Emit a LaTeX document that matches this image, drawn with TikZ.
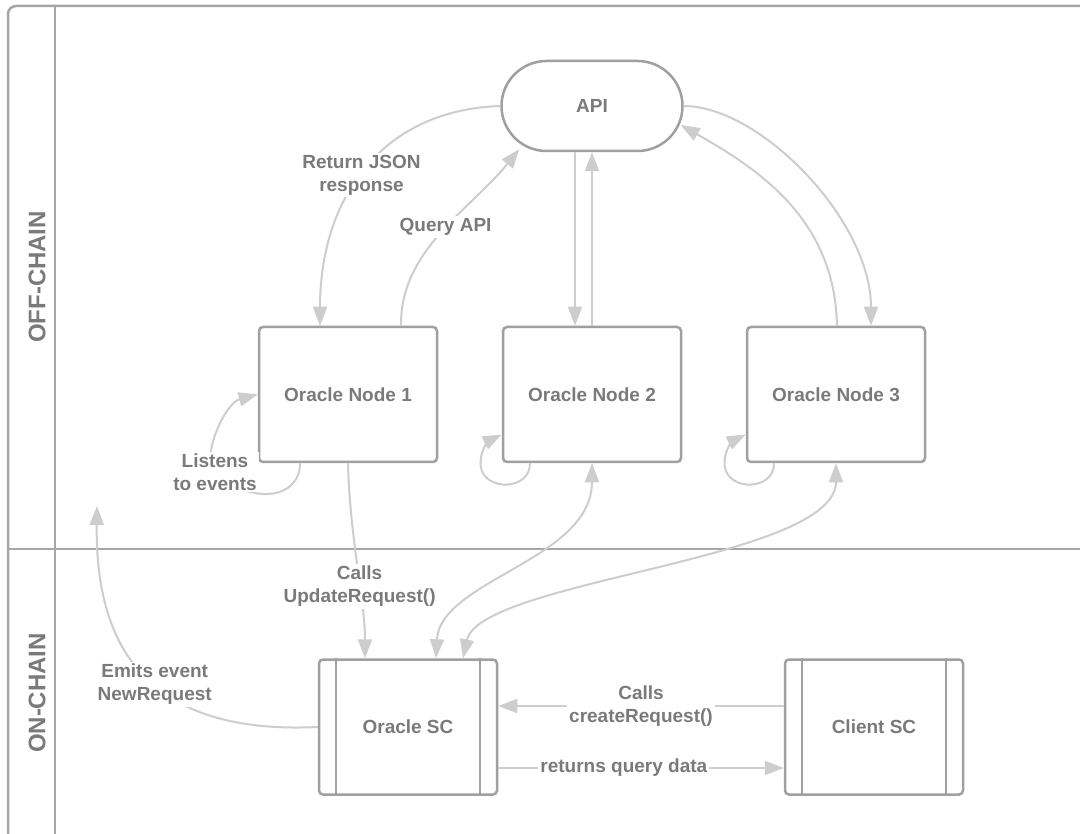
\documentclass[tikz,border=0pt]{standalone}
\usepackage{fontspec}
\setmainfont{Liberation Sans}
\usepackage{tikz}
\usetikzlibrary{arrows.meta,calc,positioning}
\definecolor{rahmen}{HTML}{A6A6A6}
\definecolor{kasten}{HTML}{A0A0A0}
\definecolor{pfeil}{HTML}{CDCDCD}
\definecolor{schrift}{HTML}{7A7A7A}

\begin{document}
\begin{tikzpicture}[x=1pt,y=-1pt,
  >={Triangle[length=19pt,width=14pt]},
  box/.style={draw=kasten,line width=2.5pt,rounded corners=4pt,minimum width=178pt,minimum height=135pt,inner sep=0pt,text=schrift,font=\fontsize{19}{23}\selectfont\bfseries},
  link/.style={draw=pfeil,line width=2pt,->},
  lbl/.style={fill=white,align=center,inner sep=2pt,text=schrift,font=\fontsize{19}{23}\selectfont\bfseries},
  lane/.style={rotate=90,text=schrift,font=\fontsize{24}{27}\selectfont\bfseries},
  rahmenlinie/.style={draw=rahmen,line width=2.5pt}]
\useasboundingbox (0,0) rectangle (1080,834);
%Schwimmbahnen
\draw[rahmenlinie,rounded corners=8pt] (1080,6) -- (8,6) -- (8,834);
\draw[rahmenlinie] (55,6) -- (55,834);
\draw[rahmenlinie] (8,549) -- (1080,549);
\node[lane] (off) at (37,277) {OFF-CHAIN};
\node[lane] (on) at (37,693) {ON-CHAIN};
%Knoten
\node[box,rounded corners=45pt,minimum width=181pt,minimum height=90pt] (api) at (592,106) {API};
\node[box] (n1) at (348,394.5) {Oracle Node 1};
\node[box] (n2) at (592,394.5) {Oracle Node 2};
\node[box] (n3) at (836,394.5) {Oracle Node 3};
\node[box] (sc) at (408,727) {Oracle SC};
\node[box] (cl) at (874,727) {Client SC};
\foreach \k in {sc,cl}{
\draw[draw=kasten,line width=2pt] ([xshift=18]\k.north west) -- ([xshift=18]\k.south west);
\draw[draw=kasten,line width=2pt] ([xshift=-18]\k.north east) -- ([xshift=-18]\k.south east);
}
\coordinate (evt) at (97,506);
%Verbindungen
\draw[link] (api.west) .. controls (380,110) and (320,200) .. ($(n1.north)+(-28,0)$) node[lbl,pos=0.52] {Return JSON\\response};
\draw[link] ($(n1.north)+(53,0)$) .. controls (400,250) and (470,210) .. ($(api.south west)+(19,-3)$) node[lbl,pos=0.53] {Query API};
\draw[link] ($(api.south)+(-17,0)$) -- ($(n2.north)+(-17,0)$);
\draw[link] (n2.north) -- (api.south);
\draw[link] (api.east) .. controls (760,106) and (871,220) .. ($(n3.north)+(35,0)$);
\draw[link] ($(n3.north)+(1,0)$) .. controls (835,220) and (760,170) .. ($(api.east)+(-3,19)$);
\draw[link] ($(n1.south)+(-48,0)$) .. controls (300,500) and (250,505) .. (215,472) node[lbl] {Listens\\to events} .. controls (200,458) and (225,403) .. (n1.west);
\foreach \k in {n2,n3}{
\draw[link] ($(\k.south)+(-62,0)$) .. controls +(0,28) and +(3,25) .. ($(\k.south west)+(-21,3)$) .. controls +(-2,-15) and +(-12,6) .. ($(\k.west)+(0,40)$);
}
\draw[link] (n1.south) .. controls (350,540) and (365,600) .. ($(sc.north)+(-43,0)$) node[lbl,pos=0.6] {Calls\\UpdateRequest()};
\draw[link,<->] ($(sc.north)+(28,0)$) .. controls (440,580) and (592,560) .. (n2.south);
\draw[link,<->] ($(sc.north)+(55,0)$) .. controls (480,580) and (836,560) .. (n3.south);
\draw[link] (sc.west) .. controls (150,735) and (95,650) .. (evt) node[lbl,pos=0.45] {Emits event\\NewRequest};
\draw[link] ($(cl.west)+(0,-21)$) -- node[lbl] {Calls\\createRequest()} ($(sc.east)+(0,-21)$);
\draw[link] ($(sc.east)+(0,41)$) -- node[lbl,pos=0.44] {returns query data} ($(cl.west)+(0,41)$);
\end{tikzpicture}
\end{document}
